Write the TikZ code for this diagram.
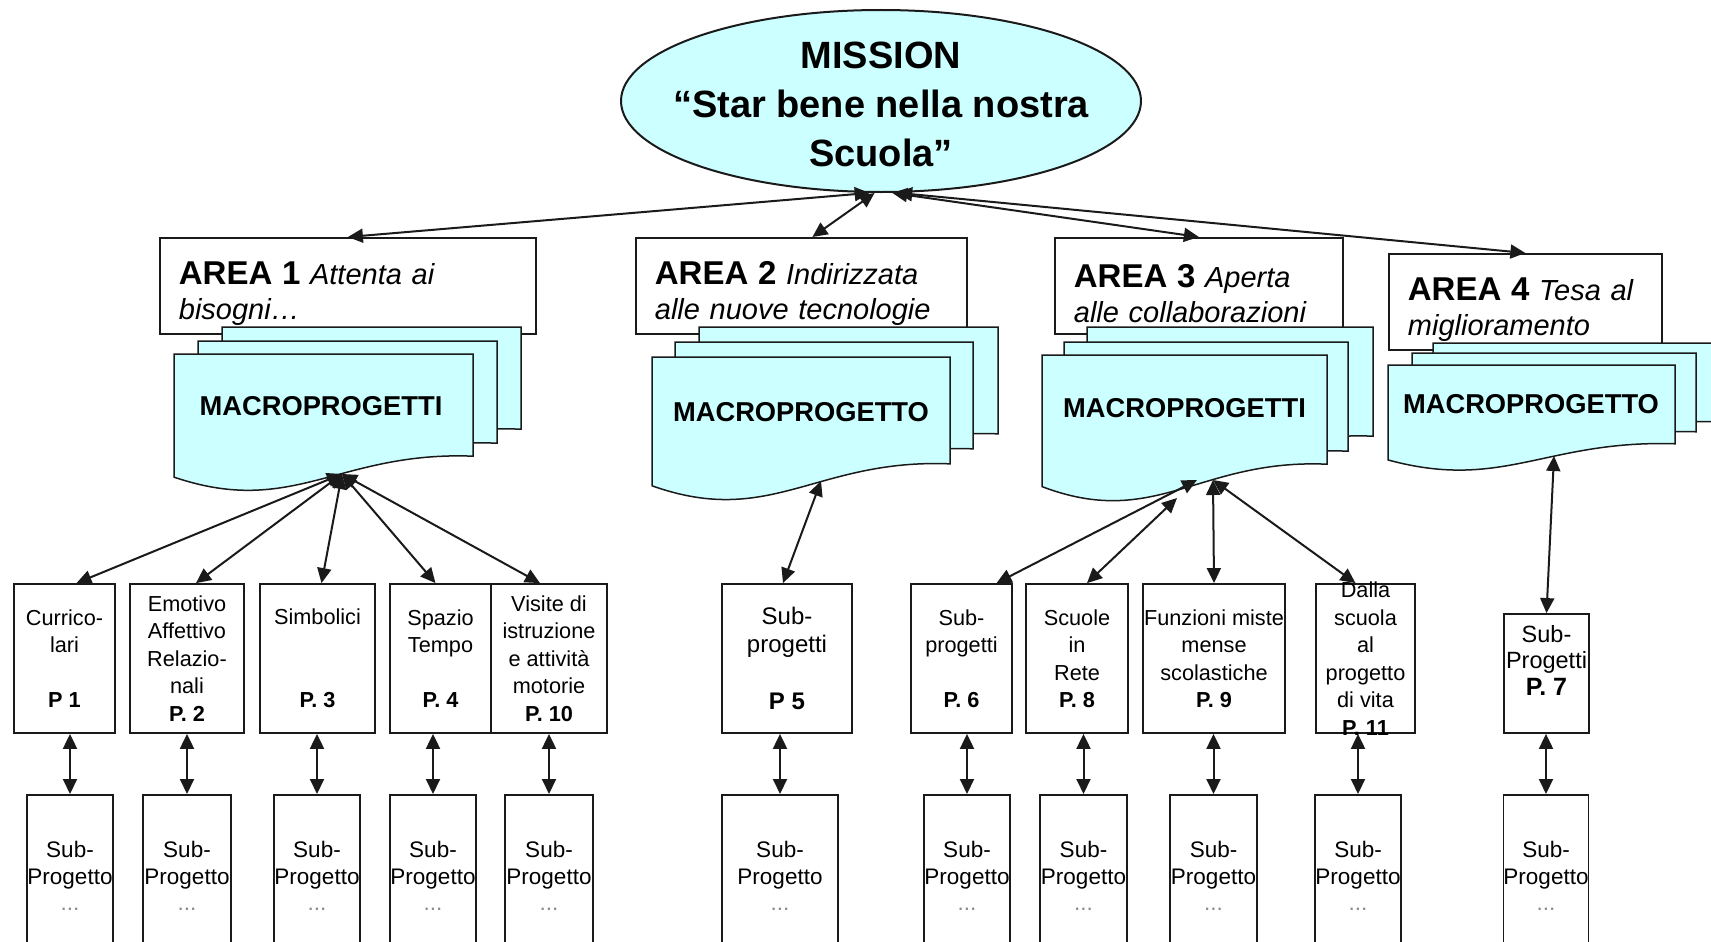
\documentclass[tikz,border=0pt]{standalone}
\usepackage{fontspec}
\setmainfont{Liberation Sans}
\usetikzlibrary{shapes.geometric, arrows.meta}
\definecolor{missionColor}{HTML}{CCFFFF}
\definecolor{macroColor}{HTML}{CCFFFF}
\definecolor{lineColor}{HTML}{1A1A1A}

% stacked sheet with a wavy lower edge: left, top, width, height
\newcommand{\docsheet}[4]{%
  \filldraw[docsheet] (#1,#2) -- ({#1+#3},#2) -- ({#1+#3},{#2+0.78*#4})
    .. controls ({#1+0.55*#3},{#2+0.74*#4}) and ({#1+0.4*#3},{#2+1.25*#4})
    .. (#1,{#2+0.94*#4}) -- cycle;
}

\begin{document}
\begin{tikzpicture}[
    x=1pt, y=-1pt,
    missionbox/.style={
        ellipse,
        draw=lineColor,
        line width=2pt,
        fill=missionColor,
        minimum width=520pt,
        minimum height=182pt,
        inner sep=0pt,
    },
    missiontext/.style={
        align=center,
        font=\fontsize{38}{49}\selectfont\bfseries,
    },
    areabox/.style={
        draw=lineColor,
        line width=1.8pt,
        fill=white,
        minimum height=96pt,
        inner xsep=19pt,
        inner ysep=0pt,
        align=left,
        anchor=north west,
        font=\fontsize{29}{35}\selectfont\itshape,
    },
    docsheet/.style={
        draw=lineColor,
        line width=1.5pt,
        fill=macroColor,
    },
    macrotext/.style={
        font=\fontsize{27.3}{30}\selectfont\bfseries,
    },
    projtext/.style={
        align=center,
        inner sep=0pt,
        font=\fontsize{21.7}{27.5}\selectfont,
    },
    projbox/.style={
        projtext,
        draw=lineColor,
        line width=1.8pt,
        fill=white,
        minimum height=149pt,
    },
    subbox/.style={
        draw=lineColor,
        line width=1.8pt,
        fill=white,
        minimum height=162pt,
        inner sep=0pt,
        align=center,
        anchor=north,
        font=\fontsize{22.5}{26.5}\selectfont,
    },
    rel/.style={
        >={Triangle[length=15pt, width=14pt]},
        <->,
        line width=2pt,
        draw=lineColor,
    },
]

\useasboundingbox (0,0) rectangle (1711,942);
\clip (0,0) rectangle (1711,942);

% mission
\node[missionbox] (mission) at (881,101) {};
\node[missiontext] (missiontxt) at (881,104) {MISSION\\“Star bene nella nostra\\Scuola”};

% areas
\node[areabox, text width=338pt] (areaA) at (159,237) {%
    \rule{0pt}{39pt}{\fontsize{33}{35}\selectfont\bfseries\upshape AREA 1} Attenta ai\\bisogni…};
\node[areabox, text width=293pt] (areaB) at (635,237) {%
    \rule{0pt}{39pt}{\fontsize{33}{35}\selectfont\bfseries\upshape AREA 2} Indirizzata\\alle nuove tecnologie};
\node[areabox, text width=250pt] (areaC) at (1054,237) {%
    \rule{0pt}{39pt}{\fontsize{33}{35}\selectfont\bfseries\upshape AREA 3} Aperta\\alle collaborazioni};
\node[areabox, text width=235pt] (areaD) at (1388,253) {%
    \rule{0pt}{39pt}{\fontsize{33}{35}\selectfont\bfseries\upshape AREA 4} Tesa al\\miglioramento};

% macroprogetti
\docsheet{222}{327}{299}{131}
\docsheet{198}{341}{299}{131}
\docsheet{174}{354}{299}{131}
\node[macrotext] (macroA) at (321,406) {MACROPROGETTI};

\docsheet{699}{327}{299}{137}
\docsheet{675}{342}{298}{137}
\docsheet{652}{357}{298}{137}
\node[macrotext] (macroB) at (801,412) {MACROPROGETTO};

\docsheet{1087}{327}{286}{140}
\docsheet{1064}{342}{284}{140}
\docsheet{1042}{355}{285}{140}
\node[macrotext] (macroC) at (1184.5,408) {MACROPROGETTI};

\docsheet{1433}{343}{290}{101}
\docsheet{1412}{353}{284}{101}
\docsheet{1388}{365}{287}{101}
\node[macrotext] (macroD) at (1531,404) {MACROPROGETTO};

\coordinate (hubA) at (342,474);
\coordinate (hubB) at (821,481);
\coordinate (hubC) at (1197,480);
\coordinate (hubD) at (1213,480);
\coordinate (gapC) at (1177,498);
\coordinate (hubE) at (1554,456);

% progetti
\node[projbox, minimum width=101pt] (p1) at (64.5,658.5) {Currico-\\lari\\~\\\textbf{P 1}};
\node[projbox, minimum width=114pt] (p2) at (187,658.5) {Emotivo\\Affettivo\\Relazio-\\nali\\\textbf{P. 2}};
\node[projbox, minimum width=115pt] (p3) at (317.5,658.5) {Simbolici\\~\\~\\\textbf{P. 3}};
\node[projbox, minimum width=101pt] (p4) at (440.5,658.5) {Spazio\\Tempo\\~\\\textbf{P. 4}};
\node[projbox, minimum width=116pt] (p10) at (549,658.5) {Visite di\\istruzione\\e attività\\motorie\\\textbf{P. 10}};
\node[projbox, minimum width=130pt, font=\fontsize{24}{28.4}\selectfont] (p5) at (787,658.5) {Sub-\\progetti\\~\\\textbf{P 5}};
\node[projbox, minimum width=101pt] (p6) at (961.5,658.5) {Sub-\\progetti\\~\\\textbf{P. 6}};
\node[projbox, minimum width=102pt] (p8) at (1077,658.5) {Scuole\\in\\Rete\\\textbf{P. 8}};
\node[projbox, minimum width=142pt] (p9) at (1214,658.5) {Funzioni miste\\mense\\scolastiche\\\textbf{P. 9}};
\node[projbox, minimum width=99pt] (p11) at (1365.5,658.5) {};
\node[projtext] (p11txt) at (p11) {Dalla\\scuola\\al\\progetto\\di vita\\\textbf{P. 11}};
\node[projbox, minimum width=85pt, minimum height=119pt, font=\fontsize{23.5}{26.5}\selectfont] (p7) at (1546.5,673.5) {Sub-\\Progetti\\{\fontsize{25}{26.5}\selectfont\bfseries P. 7}\\~};

% sub-progetti
\node[subbox, minimum width=86pt] (s1) at (70,794) {Sub-\\Progetto\\{\color{black!45}...}};
\node[subbox, minimum width=88pt] (s2) at (187,794) {Sub-\\Progetto\\{\color{black!45}...}};
\node[subbox, minimum width=86pt] (s3) at (317,794) {Sub-\\Progetto\\{\color{black!45}...}};
\node[subbox, minimum width=86pt] (s4) at (433,794) {Sub-\\Progetto\\{\color{black!45}...}};
\node[subbox, minimum width=88pt] (s10) at (549,794) {Sub-\\Progetto\\{\color{black!45}...}};
\node[subbox, minimum width=116pt] (s5) at (780,794) {Sub-\\Progetto\\{\color{black!45}...}};
\node[subbox, minimum width=86pt] (s6) at (967,794) {Sub-\\Progetto\\{\color{black!45}...}};
\node[subbox, minimum width=87pt] (s8) at (1083.5,794) {Sub-\\Progetto\\{\color{black!45}...}};
\node[subbox, minimum width=87pt] (s9) at (1213.5,794) {Sub-\\Progetto\\{\color{black!45}...}};
\node[subbox, minimum width=86pt] (s11) at (1358,794) {Sub-\\Progetto\\{\color{black!45}...}};
\node[subbox, minimum width=85pt] (s7) at (1546,794) {Sub-\\Progetto\\{\color{black!45}...}};

% connectors
\draw[rel] (mission.263) -- (areaA.north);
\draw[rel] (mission.266) -- ([xshift=11pt]areaB.north);
\draw[rel] (mission.277) -- (areaC.north);
\draw[rel] (mission.280) -- (areaD.north);

\draw[rel] (hubA) -- ([xshift=12pt]p1.north);
\draw[rel] (hubA) -- ([xshift=9pt]p2.north);
\draw[rel] (hubA) -- ([xshift=4pt]p3.north);
\draw[rel] (hubA) -- ([xshift=-5pt]p4.north);
\draw[rel] (hubA) -- ([xshift=-9pt]p10.north);
\draw[rel] (hubB) -- ([xshift=-4pt]p5.north);
\draw[rel] (hubC) -- ([xshift=35pt]p6.north);
\draw[rel] (gapC) -- ([xshift=10pt]p8.north);
\draw[rel] (hubD) -- (p9.north);
\draw[rel] (hubD) -- ([xshift=-10pt]p11.north);
\draw[rel] (hubE) -- (p7.north);

\draw[rel] (s1.north) -- (s1.north |- p1.south);
\draw[rel] (s2.north) -- (s2.north |- p2.south);
\draw[rel] (s3.north) -- (s3.north |- p3.south);
\draw[rel] (s4.north) -- (s4.north |- p4.south);
\draw[rel] (s10.north) -- (s10.north |- p10.south);
\draw[rel] (s5.north) -- (s5.north |- p5.south);
\draw[rel] (s6.north) -- (s6.north |- p6.south);
\draw[rel] (s8.north) -- (s8.north |- p8.south);
\draw[rel] (s9.north) -- (s9.north |- p9.south);
\draw[rel] (s11.north) -- (s11.north |- p11.south);
\draw[rel] (s7.north) -- (s7.north |- p7.south);

\end{tikzpicture}
\end{document}
